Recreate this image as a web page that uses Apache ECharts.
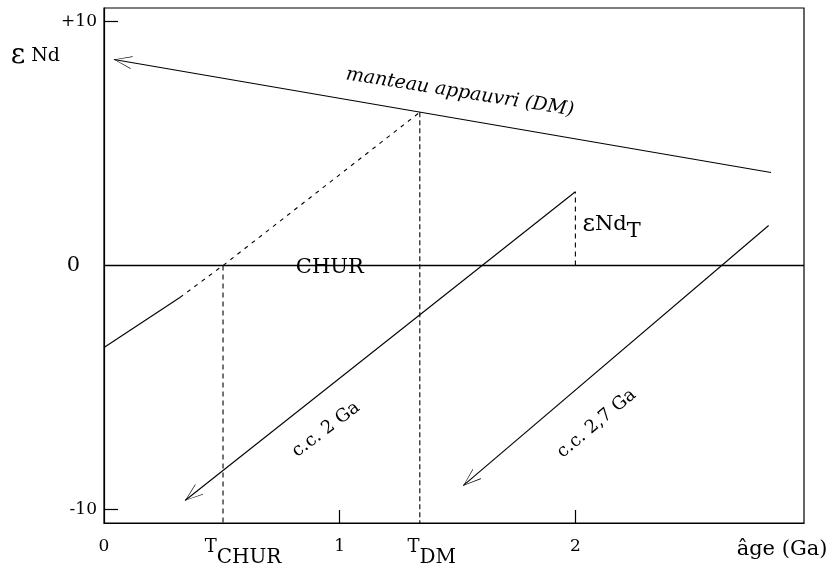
<!DOCTYPE html>
<html><head><meta charset="utf-8">
<script src="https://cdn.jsdelivr.net/npm/echarts@6/dist/echarts.min.js"></script>
<style>html,body{margin:0;padding:0;background:#fff}#c{width:839px;height:572px}</style>
</head><body><div id="c"></div>
<script>
const FONT = 'DejaVu Serif';
// axis ticks and labels
const xTickValues = [0, 1, 2];
const xTickLabels = ['0', '1', '2'];
const yTickValues = [-10, 0, 10];
const yTickLabels = ['-10', '0', '+10'];
// model ages (Ga)
const tChur = 0.505;
const tDm = 1.34;
// line data [age Ga, epsilon Nd]
const churLine = [[0, 0], [2.97, 0]];
const dmLine = [[2.83, 3.81], [0.042, 8.44]];
const crust2Ga = [[2, 3.02], [0.344, -9.63]];
const crust27Ga = [[2.82, 1.64], [1.524, -9.02]];
const youngSolid = [[0, -3.36], [0.322, -1.31]];
const youngDashed = [[0.322, -1.31], [tChur, 0], [tDm, 6.28]];
const tChurDrop = [[tChur, 0], [tChur, -10.55]];
const tDmDrop = [[tDm, 6.28], [tDm, -10.55]];
const epsTDrop = [[2, 0], [2, 3.02]];
// annotations
const annotTexts = ['manteau appauvri (DM)', 'CHUR', 'c.c. 2 Ga', 'c.c. 2,7 Ga', '{e|ε}{n|Nd}{s|T}'];
const annotPos = [[1.51, 7.09], [0.958, -0.1], [0.942, -6.72], [2.09, -6.48], [2.03, 1.66]];

const ARROW = 'path://M10,0L10.1,0.1L9.9,0.1Z M10,20L17,40L16.2,40L10,21.6L3.8,40L3,40Z';
const BLACK = '#000';

const annotStyles = [
  {rotate: -9, fontSize: 19, fontStyle: 'italic', position: 'inside'},
  {rotate: 0, fontSize: 21, position: 'inside'},
  {rotate: 37, fontSize: 18, position: 'inside'},
  {rotate: 40, fontSize: 18, position: 'inside'},
  {rotate: 0, position: 'right', distance: 0, lineHeight: 34,
   rich: {e: {fontSize: 24, fontFamily: FONT, color: BLACK},
          n: {fontSize: 21, fontFamily: FONT, color: BLACK},
          s: {fontSize: 21, fontFamily: FONT, color: BLACK, verticalAlign: 'bottom'}}}
];

const chart = echarts.init(document.getElementById('c'), null, {renderer: 'canvas'});
const dashed = (data, dash) => ({
  type: 'line', data: data, showSymbol: false, silent: true, animation: false,
  lineStyle: {color: BLACK, width: 1.1, type: dash}
});
chart.setOption({
  backgroundColor: '#fff',
  animation: false,
  grid: {left: 104, right: 35, top: 8, bottom: 49, show: true, borderColor: BLACK, borderWidth: 1.2},
  xAxis: {
    type: 'value', min: 0, max: 2.97,
    name: 'âge (Ga)', nameLocation: 'end', nameGap: -22,
    nameTextStyle: {fontFamily: FONT, fontSize: 21, color: BLACK, align: 'center', verticalAlign: 'top', padding: [16, 0, 0, 0]},
    axisLine: {onZero: false, lineStyle: {color: BLACK, width: 1.2}},
    splitLine: {show: false},
    axisTick: {inside: true, length: 13, customValues: [1, 2], lineStyle: {color: BLACK, width: 1.2}},
    axisLabel: {
      customValues: [0, tChur, 1, tDm, 2], margin: 15, lineHeight: 30,
      fontFamily: FONT, color: BLACK,
      formatter: function (v) {
        const i = xTickValues.indexOf(v);
        if (i >= 0) return '{n|' + xTickLabels[i] + '}';
        if (v === tChur) return '{ta|T}{s|CHUR}';
        if (v === tDm) return '{tb|T}{s|DM}';
        return '';
      },
      rich: {
        n: {fontSize: 17, fontFamily: FONT, color: BLACK, verticalAlign: 'top'},
        ta: {fontSize: 18, fontFamily: FONT, color: BLACK, verticalAlign: 'top', padding: [0, 0, 0, 40]},
        tb: {fontSize: 18, fontFamily: FONT, color: BLACK, verticalAlign: 'top', padding: [0, 0, 0, 24]},
        s: {fontSize: 20, fontFamily: FONT, color: BLACK, verticalAlign: 'bottom'}
      }
    }
  },
  yAxis: {
    type: 'value', min: -10.55, max: 10.55,
    name: '{e|ε}{n| Nd}', nameLocation: 'end', nameGap: -48,
    nameTextStyle: {align: 'right', verticalAlign: 'middle', padding: [0, 44, 0, 0],
      rich: {e: {fontSize: 28, fontFamily: FONT, color: BLACK}, n: {fontSize: 19, fontFamily: FONT, color: BLACK}}},
    axisLine: {onZero: false, lineStyle: {color: BLACK, width: 1.2}},
    splitLine: {show: false},
    axisTick: {inside: true, length: 14, customValues: [-10, 10], lineStyle: {color: BLACK, width: 1.2}},
    axisLabel: {
      customValues: yTickValues, margin: 7, fontFamily: FONT, fontSize: 17, color: BLACK,
      formatter: function (v) {
        const i = yTickValues.indexOf(v);
        if (v === 0) return '{z|' + yTickLabels[i] + '}';
        return yTickLabels[i];
      },
      rich: {z: {fontSize: 21, fontFamily: FONT, color: BLACK, padding: [0, 17, 0, 0]}}
    }
  },
  series: [
    {type: 'line', data: churLine, showSymbol: false, silent: true, lineStyle: {color: BLACK, width: 1.3}},
    {type: 'line', data: youngSolid, showSymbol: false, silent: true, lineStyle: {color: BLACK, width: 1.1}},
    dashed(youngDashed, [4, 5]),
    dashed(tChurDrop, [5, 4]),
    dashed(tDmDrop, [5, 3]),
    dashed(epsTDrop, [5, 4]),
    {
      type: 'lines', coordinateSystem: 'cartesian2d', silent: true,
      symbol: ['none', ARROW], symbolSize: [1, [13, 36]],
      lineStyle: {color: BLACK, width: 1.1, opacity: 1},
      data: [dmLine, crust2Ga, crust27Ga].map(c => ({coords: c}))
    },
    {
      type: 'scatter', symbolSize: 0, silent: true,
      itemStyle: {opacity: 1},
      data: annotPos.map((p, i) => ({
        value: p,
        label: Object.assign({show: true, formatter: annotTexts[i], fontFamily: FONT, color: BLACK, opacity: 1}, annotStyles[i])
      }))
    }
  ]
});
</script>
</body></html>
